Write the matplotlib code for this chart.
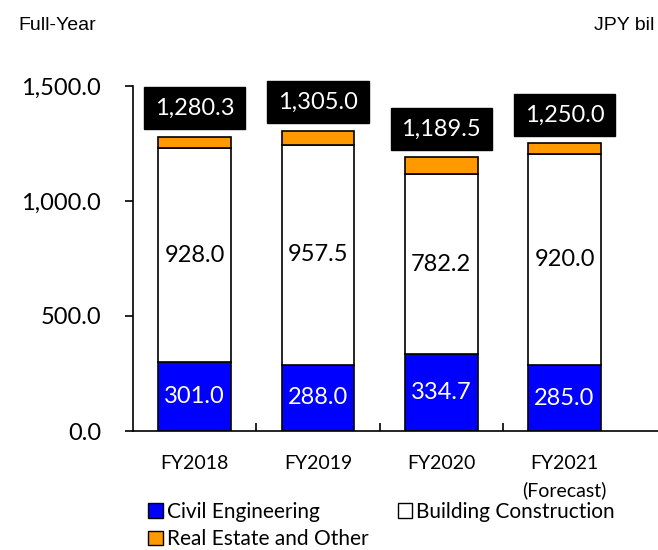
import numpy as np
import matplotlib.pyplot as plt
from matplotlib.patches import Patch

years = ["FY2018", "FY2019", "FY2020", "FY2021\n(Forecast)"]
civil = [301.0, 288.0, 334.7, 285.0]
building = [928.0, 957.5, 782.2, 920.0]
totals = [1280.3, 1305.0, 1189.5, 1250.0]
real_estate = [t - c - b for t, c, b in zip(totals, civil, building)]

blue = "#0000FF"
orange = "#FF9900"
lab_font = "Lato"

fig = plt.figure(figsize=(6.58, 5.5), dpi=100)
ax = fig.add_axes([133 / 658, 119 / 550, 525 / 658, 345 / 550])

x = np.arange(len(years))
w = 0.59
ax.bar(x, civil, w, color=blue, edgecolor="black", linewidth=1.2, zorder=2)
ax.bar(x, building, w, bottom=civil, color="white", edgecolor="black", linewidth=1.2, zorder=2)
bottoms = [c + b for c, b in zip(civil, building)]
ax.bar(x, real_estate, w, bottom=bottoms, color=orange, edgecolor="black", linewidth=1.2, zorder=2)

for i in range(len(years)):
    ax.text(x[i], civil[i] / 2, f"{civil[i]:.1f}", ha="center", va="center",
            color="white", fontsize=17, family=lab_font)
    ax.text(x[i], civil[i] + building[i] / 2, f"{building[i]:.1f}", ha="center", va="center",
            color="black", fontsize=17, family=lab_font)
    ax.annotate(f"{totals[i]:,.1f}", (x[i], totals[i]), xytext=(0, 13), textcoords="offset points",
                ha="center", va="bottom", color="white", fontsize=17, family=lab_font,
                bbox=dict(boxstyle="square,pad=0.45", fc="black", ec="black"))

ax.set_ylim(0, 1500)
ax.set_xlim(-0.5, 3.5 + 32 / 124)
ax.set_yticks([0, 500, 1000, 1500])
ax.set_yticklabels([f"{v:,.1f}" for v in [0, 500, 1000, 1500]], family=lab_font, fontsize=17)
ax.tick_params(axis="y", direction="out", length=6, width=1.2, pad=17)

ax.set_xticks(x)
ax.set_xticklabels(years, family=lab_font, fontsize=14, linespacing=1.65)
ax.tick_params(axis="x", which="major", length=0, pad=17)
ax.set_xticks([0.5, 1.5, 2.5], minor=True)
ax.tick_params(axis="x", which="minor", direction="in", length=6, width=1.2)

for s in ["top", "right"]:
    ax.spines[s].set_visible(False)
ax.spines["left"].set_linewidth(1.2)
ax.spines["bottom"].set_linewidth(1.2)

handles = [Patch(fc=blue, ec="black", label="Civil Engineering"),
           Patch(fc=orange, ec="black", label="Real Estate and Other"),
           Patch(fc="white", ec="black", label="Building Construction")]
fig.legend(handles=handles, ncol=2, loc="upper left", bbox_to_anchor=(148 / 658, 1 - 502 / 550),
           frameon=False, prop={"family": lab_font, "size": 15}, handlelength=0.7, handleheight=0.7,
           handletextpad=0.2, columnspacing=1.4, borderpad=0, borderaxespad=0, labelspacing=0.35)

fig.text(18 / 658, 1 - 25 / 550, "Full-Year", family="Liberation Sans", fontsize=14, va="center", ha="left")
fig.text(654 / 658, 1 - 25 / 550, "JPY bil", family="Liberation Sans", fontsize=14, va="center", ha="right")

fig.savefig("out.png", dpi=100)
